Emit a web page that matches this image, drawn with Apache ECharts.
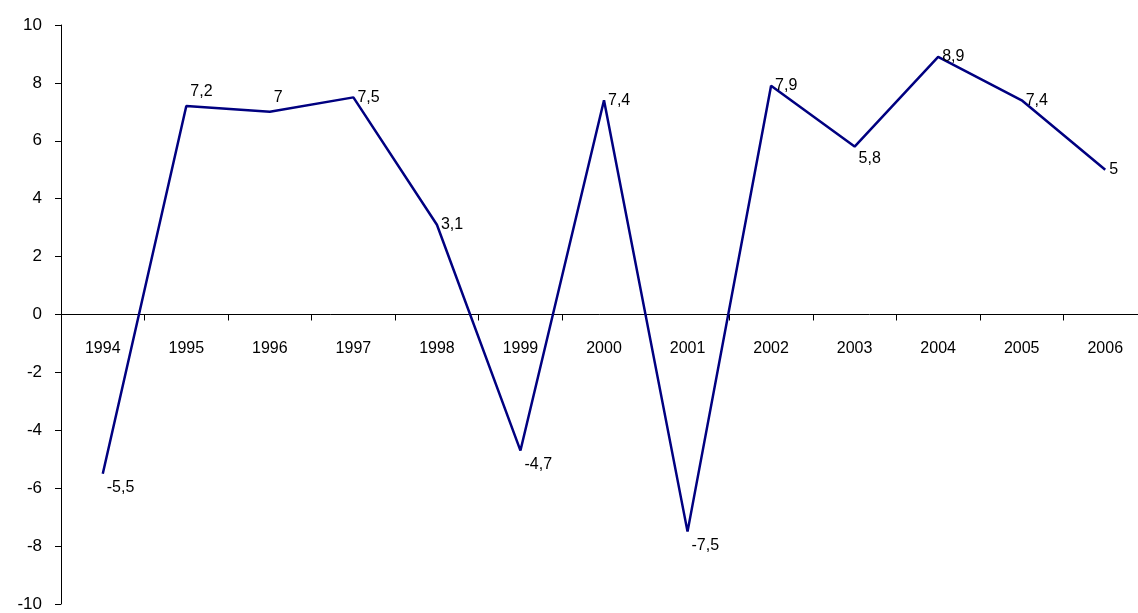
<!DOCTYPE html>
<html>
<head>
<meta charset="utf-8">
<script src="https://cdn.jsdelivr.net/npm/echarts@6/dist/echarts.min.js"></script>
<style>
  html, body { margin: 0; padding: 0; background: #fff; }
  #chart { width: 1138px; height: 613px; }
</style>
</head>
<body>
<div id="chart"></div>
<script>
var years = ['1994', '1995', '1996', '1997', '1998', '1999', '2000', '2001', '2002', '2003', '2004', '2005', '2006']
var growth = [-5.5, 7.2, 7, 7.5, 3.1, -4.7, 7.4, -7.5, 7.9, 5.8, 8.9, 7.4, 5]

var lineColor = '#000080'
var font = '"Liberation Sans", Arial, sans-serif'

// nudge labels a bit like the original spreadsheet chart
var labelData = growth.map(function (v, i) {
  var off = [0, 0]
  if (v < 0) off = [0, 14]
  if (i === 1 || i === 2) off = [0, -14]
  if (i === 9) off = [0, 12]
  return {
    value: v,
    label: { offset: off }
  }
})

var chart = echarts.init(document.getElementById('chart'))
chart.setOption({
  animation: false,
  grid: {
    left: 61,
    right: -9,
    top: 25,
    bottom: 9,
    outerBoundsMode: 'none'
  },
  xAxis: [
    {
      type: 'category',
      data: years,
      boundaryGap: true,
      axisLine: { onZero: true, lineStyle: { color: '#000', width: 1 } },
      axisTick: { show: true, length: 6, lineStyle: { color: '#000' } },
      axisLabel: { show: false },
      splitLine: { show: false }
    },
    {
      // labels only, pulled up to sit under the zero line
      type: 'category',
      data: years,
      position: 'bottom',
      offset: -290,
      axisLine: { show: false },
      axisTick: { show: false },
      axisLabel: {
        margin: 27,
        color: '#000',
        fontFamily: font,
        fontSize: 16
      },
      splitLine: { show: false }
    }
  ],
  yAxis: {
    type: 'value',
    min: -10,
    max: 10,
    interval: 2,
    axisLine: { show: true, lineStyle: { color: '#000', width: 1 } },
    axisTick: { show: true, length: 6, lineStyle: { color: '#000' } },
    axisLabel: {
      margin: 19,
      color: '#000',
      fontFamily: font,
      fontSize: 17
    },
    splitLine: { show: false }
  },
  series: [
    {
      type: 'line',
      data: labelData,
      symbol: 'circle',
      symbolSize: 0,
      showSymbol: true,
      itemStyle: { color: lineColor },
      lineStyle: { color: lineColor, width: 2.5 },
      label: {
        show: true,
        position: 'right',
        distance: 4,
        color: '#000',
        fontFamily: font,
        fontSize: 16,
        formatter: function (p) {
          return String(p.value).replace('.', ',')
        }
      }
    }
  ]
})
</script>
</body>
</html>
